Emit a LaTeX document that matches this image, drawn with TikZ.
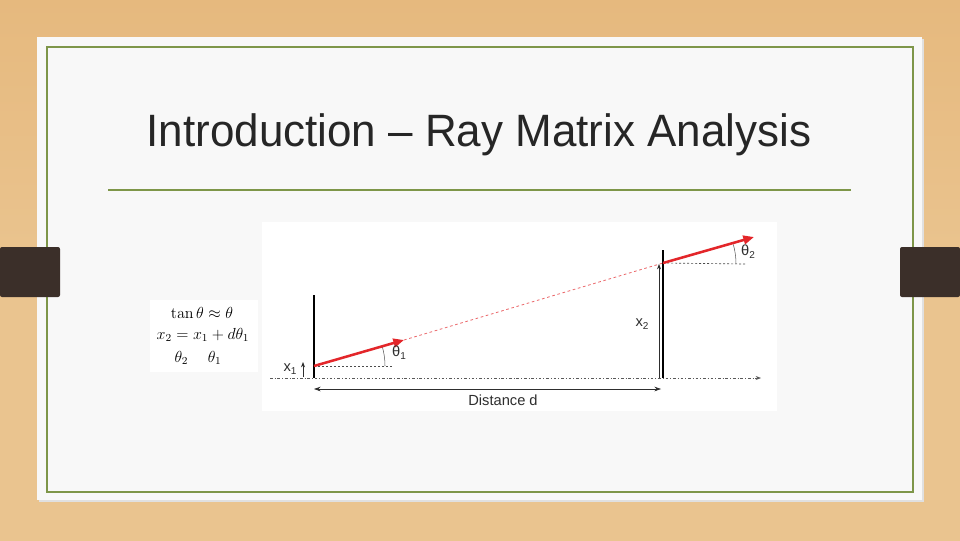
\documentclass[tikz,border=0pt]{standalone}
\usepackage[no-math]{fontspec}
\setmainfont{Liberation Sans}
\usetikzlibrary{arrows.meta}
\definecolor{wood}{HTML}{EAC48F}
\definecolor{woodtop}{HTML}{E6B97E}
\definecolor{card}{HTML}{F8F8F8}
\definecolor{olive}{HTML}{7E9649}
\definecolor{tabc}{HTML}{3B2F29}
\definecolor{rayred}{HTML}{E3262A}
\definecolor{ink}{HTML}{2E2E2E}
\tikzset{
  bar/.style={line width=2.2pt, black},
  ray/.style={line width=1.9pt, rayred, -{Triangle[length=8pt,width=6.5pt]}},
  rayext/.style={line width=0.6pt, rayred!70, dash pattern=on 2pt off 2pt},
  axis/.style={line width=0.5pt, gray!70!black, dash pattern=on 2pt off 1.5pt on 0.6pt off 1.5pt, -{Stealth[length=4pt,width=3pt]}},
  ref/.style={line width=0.5pt, gray!60!black, dash pattern=on 1.5pt off 1.5pt},
  thin/.style={line width=0.5pt, ink},
  lab/.style={font=\fontsize{11}{13}\selectfont, text=ink, inner sep=0pt},
  formula/.style={inner sep=0pt, font=\fontsize{11.5}{13}\selectfont}
}
\newcommand{\lsub}[1]{\raisebox{-0.4ex}{\fontsize{7.5}{8}\selectfont #1}}
\begin{document}
\begin{tikzpicture}[x=0.75pt,y=-0.75pt]
\useasboundingbox (0,0) rectangle (960,540);
\shade[top color=woodtop, bottom color=wood, middle color=wood] (0,0) rectangle (960,540);
\fill[black!12] (39,39) rectangle (924,502);
\fill[card] (37,37) rectangle (922,500);
\draw[olive, line width=1.6pt] (47,47) rectangle (913,492);
\fill[tabc, rounded corners=1.5pt] (0,247) rectangle (60,297);
\fill[tabc, rounded corners=1.5pt] (900,247) rectangle (960,297);
\node[inner sep=0pt, text=black!85, anchor=base, xscale=0.97] (title) at (479,146) {\fontsize{34}{38}\selectfont Introduction – Ray Matrix Analysis};
\coordinate (ul) at (108,190);
\coordinate (ur) at (851,190);
\draw[olive, line width=1.1pt] (ul) -- (ur);
% figure panel
\fill[white] (262,222) rectangle (777,411);
\fill[white] (150,300) rectangle (258,372);
% formulas
\node[formula] (f1) at (202,313) {$\tan\theta\approx\theta$};
\node[formula] (f2) at (203,335) {$x_2=x_1+d\theta_1$};
\node[formula] (f3) at (198,358) {$\theta_2\quad\ \theta_1$};
% coordinates
\coordinate (b1t) at (314,295);
\coordinate (b1b) at (314,378);
\coordinate (b2t) at (663,250);
\coordinate (b2b) at (663,378);
\coordinate (p1) at (314,366);
\coordinate (e1) at (404,340);
\coordinate (p2) at (663,263);
\coordinate (e2) at (754,237);
\coordinate (axl) at (270,378);
\coordinate (axr) at (761,378);
\coordinate (h1) at (394,366);
\coordinate (h2) at (745,264);
\coordinate (dl) at (314,389);
\coordinate (dr) at (661,389);
\coordinate (x1b) at (303,377);
\coordinate (x1t) at (303,362);
\coordinate (x2b) at (659,378);
\coordinate (x2t) at (659,264);
% axis
\draw[axis] (axl) -- (axr);
% bars
\draw[bar] (b1t) -- (b1b);
\draw[bar] (b2t) -- (b2b);
% reference lines
\draw[ref] (p1) -- (h1);
\draw[ref] (p2) -- (h2);
% angle arcs
\draw[line width=0.4pt, gray!70!black] (p1) ++(71,0) arc[start angle=0, end angle=-16.4, radius=71];
\draw[line width=0.4pt, gray!70!black] (p2) ++(73,1) arc[start angle=0, end angle=-15.6, radius=73];
% rays
\draw[rayext] (e1) -- (p2);
\draw[ray] (p1) -- (e1);
\draw[ray] (p2) -- (e2);
% heights
\draw[thin, -{Stealth[length=4pt,width=3pt]}] (x1b) -- (x1t);
\draw[thin, -{Stealth[length=4pt,width=3pt]}] (x2b) -- (x2t);
% distance
\draw[thin, {Stealth[length=5pt,width=3.5pt]}-{Stealth[length=5pt,width=3.5pt]}] (dl) -- (dr);
% labels
\node[lab] (t1) at (399,353) {θ\lsub{1}};
\node[lab] (t2) at (748,252) {θ\lsub{2}};
\node[lab] (lx1) at (290,369) {x\lsub{1}};
\node[lab] (lx2) at (642,324) {x\lsub{2}};
\node[lab] (ld) at (503,400) {Distance d};
\end{tikzpicture}
\end{document}
